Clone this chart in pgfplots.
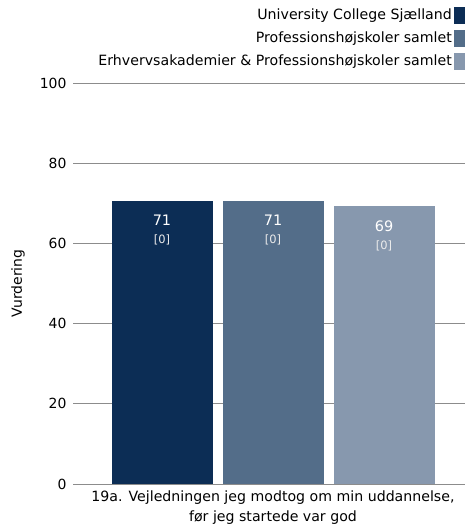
\documentclass[border=0pt]{standalone}
\usepackage{pgfplots}
\pgfplotsset{compat=1.18}
\usepackage{fontspec}
\setmainfont{DejaVu Sans}
\definecolor{cA}{HTML}{0C2D55}
\definecolor{cB}{HTML}{536D89}
\definecolor{cC}{HTML}{8798AE}
\definecolor{gridc}{HTML}{8C8C8C}
\newcommand\cm{,}
\begin{document}
\begin{tikzpicture}
\useasboundingbox (0,0) rectangle (465bp,527bp);
\begin{axis}[
  at={(73bp,43bp)}, anchor=south west,
  scale only axis, width=392bp, height=401bp,
  ybar=10bp, bar width=101bp,
  xmin=-200, xmax=192, ymin=0, ymax=100,
  ytick={0,20,...,100}, xtick={0},
  xticklabels={{19a. Vejledningen jeg modtog om min uddannelse\cm\\før jeg startede var god}},
  xticklabel style={align=center, font=\fontsize{14.2}{20}\selectfont, yshift=-3bp},
  yticklabel style={font=\fontsize{14}{15}\selectfont, xshift=-3bp},
  /pgf/number format/assume math mode=true,
  major tick length=0pt,
  axis line style={draw=none},
  ymajorgrids, grid style={gridc, line width=0.9bp},
  ylabel={Vurdering},
  every axis y label/.style={at={(axis description cs:-0.14,0.5)}, rotate=90, anchor=center, font=\fontsize{14}{15}\selectfont},
  nodes near coords={\pgfmathprintnumber[fixed,precision=0]{\pgfplotspointmeta}\\[3bp]{\fontsize{11.5}{12}\selectfont\color{white!85!gray}[0]}},
  every node near coord/.append style={anchor=north, align=center, text=white, font=\fontsize{14.5}{15}\selectfont, yshift=-11bp},
  legend style={at={(1,1.191)}, anchor=north east, draw=none, fill=none,
    font=\fontsize{14.2}{15}\selectfont, row sep=6bp, inner sep=0pt,
    /tikz/every even column/.append style={column sep=6bp}},
  legend plot pos=right, legend cell align=right,
]
\addplot[fill=cA, draw=none, legend image code/.code={\fill[cA] (0bp,-9bp) rectangle (11bp,8bp);}] coordinates {(0,70.6)};
\addplot[fill=cB, draw=none, legend image code/.code={\fill[cB] (0bp,-9bp) rectangle (11bp,8bp);}] coordinates {(0,70.6)};
\addplot[fill=cC, draw=none, legend image code/.code={\fill[cC] (0bp,-9bp) rectangle (11bp,8bp);}] coordinates {(0,69.3)};
\legend{University College Sjælland, Professionshøjskoler samlet, Erhvervsakademier \& Professionshøjskoler samlet}
\end{axis}
\end{tikzpicture}
\end{document}
